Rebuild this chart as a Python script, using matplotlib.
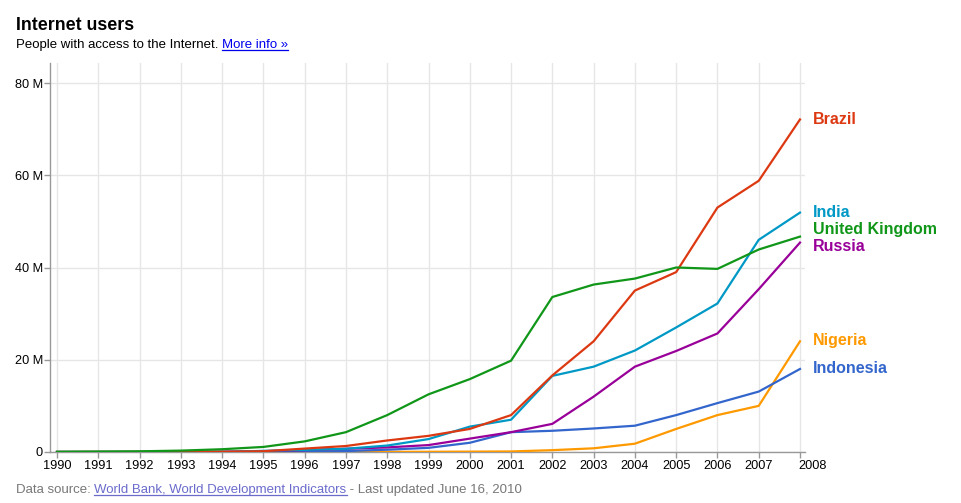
import numpy as np
import matplotlib
matplotlib.use('Agg')
import matplotlib.pyplot as plt
import matplotlib.transforms as mtransforms

plt.rcParams['font.family'] = ['Liberation Sans', 'DejaVu Sans']

# Data (millions of internet users)
years = list(range(1990, 2009))
brazil = [0.0, 0.0, 0.01, 0.02, 0.06, 0.17, 0.74, 1.3, 2.5, 3.5, 5.0, 8.0, 16.6, 24.0, 35.0, 39.0, 53.0, 58.8, 72.1]
india = [0.0, 0.0, 0.0, 0.0, 0.01, 0.25, 0.45, 0.7, 1.4, 2.8, 5.5, 7.0, 16.5, 18.5, 22.0, 27.0, 32.2, 46.0, 51.9]
uk = [0.05, 0.1, 0.15, 0.3, 0.6, 1.1, 2.3, 4.3, 8.0, 12.5, 15.8, 19.8, 33.6, 36.3, 37.6, 40.0, 39.7, 43.9, 46.7]
russia = [0.0, 0.0, 0.0, 0.01, 0.05, 0.15, 0.4, 0.7, 1.0, 1.5, 2.9, 4.3, 6.1, 12.0, 18.5, 21.9, 25.7, 35.3, 45.4]
nigeria = [0.0, 0.0, 0.0, 0.0, 0.0, 0.0, 0.01, 0.01, 0.03, 0.05, 0.08, 0.12, 0.4, 0.8, 1.8, 5.0, 8.0, 10.0, 24.0]
indonesia = [0.0, 0.0, 0.0, 0.0, 0.01, 0.05, 0.1, 0.2, 0.5, 0.9, 2.0, 4.3, 4.6, 5.1, 5.7, 8.0, 10.6, 13.1, 18.0]

names = ['Brazil', 'India', 'United Kingdom', 'Russia', 'Nigeria', 'Indonesia']
series = [brazil, india, uk, russia, nigeria, indonesia]
colors = ['#dc3912', '#0099c6', '#109618', '#990099', '#ff9900', '#3366cc']
label_y = [72.1, 52.0, 48.2, 44.5, 24.2, 18.2]
draw_order = [4, 5, 3, 1, 0, 2]

W, H = 961, 503
fig = plt.figure(figsize=(W / 100, H / 100), dpi=100)
ax = fig.add_axes([50 / W, 1 - 452 / H, (805 - 50) / W, (452 - 63) / H])

ax.set_xlim(1990 - 7 / 41.24, 2008 + 5 / 41.24)
ax.set_ylim(0, 80 * (452 - 63) / 369)

for i in draw_order:
    ax.plot(years, series[i], color=colors[i], lw=1.6, solid_joinstyle='round', zorder=3)

ax.set_xticks(years)
ax.set_xticklabels([str(y) for y in years])
ax.set_yticks([0, 20, 40, 60, 80])
ax.set_yticklabels(['0', '20 M', '40 M', '60 M', '80 M'])
ax.grid(True, color='#e6e6e6', lw=1)
ax.set_axisbelow(True)
for s in ['top', 'right']:
    ax.spines[s].set_visible(False)
for s in ['left', 'bottom']:
    ax.spines[s].set_color('#999999')
    ax.spines[s].set_linewidth(1)
ax.tick_params(axis='both', colors='#999999', labelcolor='black', labelsize=9.2, length=4, width=1)
ax.tick_params(axis='x', pad=1.5)
ax.tick_params(axis='y', pad=1)

# the last year label sits a bit to the right in the original
last = ax.get_xticklabels()[-1]
last.set_transform(last.get_transform() + mtransforms.ScaledTranslation(13 / 100, 0, fig.dpi_scale_trans))

for name, c, ly in zip(names, colors, label_y):
    ax.annotate(name, xy=(1, ly), xycoords=('axes fraction', 'data'), xytext=(6, 0),
                textcoords='offset points', color=c, fontsize=11.5, fontweight='bold',
                va='center', ha='left', annotation_clip=False)

# header
fig.text(16 / W, 1 - 30 / H, 'Internet users', fontsize=12.8, fontweight='bold', va='baseline')


def run(parts, x, y):
    fig.canvas.draw()
    r = fig.canvas.get_renderer()
    for txt, col, ul in parts:
        t = fig.text(x / W, 1 - y / H, txt, fontsize=9.5, color=col, va='baseline')
        bb = t.get_window_extent(renderer=r)
        if ul:
            fig.add_artist(plt.Line2D([bb.x0 / W, bb.x1 / W], [(H - y - 2) / H] * 2, color=col, lw=0.9))
        x = x + bb.width


run([('People with access to the Internet. ', 'black', False), ('More info \u00bb', '#0000ee', True)], 16, 48)
run([('Data source: ', '#777777', False), ('World Bank, World Development Indicators', '#6b6bcc', True),
     (' - Last updated June 16, 2010', '#777777', False)], 16, 493)

fig.savefig('out.png', dpi=100)
